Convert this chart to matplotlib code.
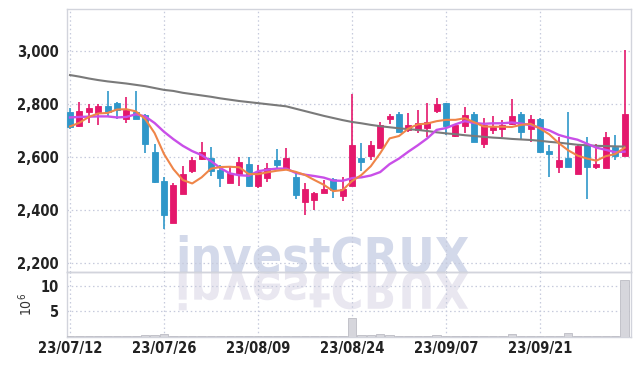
import matplotlib
matplotlib.use("Agg")
import matplotlib.pyplot as plt
from matplotlib.patches import Rectangle, PathPatch
from matplotlib.textpath import TextPath
from matplotlib.font_manager import FontProperties
from matplotlib.transforms import Affine2D
import matplotlib.ticker as mticker

# ---------------- data ----------------
tick_labels = ["23/07/12", "23/07/26", "23/08/09", "23/08/24", "23/09/07", "23/09/21"]
tick_index = [0, 10, 20, 30, 40, 50]

opens = [2770, 2717, 2769, 2766, 2791, 2804, 2743, 2769, 2757, 2618,
         2508, 2351, 2460, 2546, 2593, 2595, 2550, 2502, 2536, 2572,
         2491, 2521, 2587, 2552, 2525, 2430, 2436, 2464, 2516, 2452,
         2489, 2596, 2603, 2634, 2741, 2760, 2701, 2701, 2710, 2774,
         2801, 2679, 2716, 2761, 2648, 2701, 2705, 2724, 2761, 2703,
         2741, 2622, 2562, 2595, 2534, 2643, 2562, 2556, 2635, 2604]
highs = [2783, 2805, 2799, 2799, 2848, 2806, 2826, 2848, 2760, 2648,
         2523, 2502, 2565, 2600, 2657, 2635, 2569, 2561, 2600, 2600,
         2570, 2575, 2629, 2632, 2537, 2500, 2466, 2512, 2518, 2525,
         2835, 2650, 2660, 2729, 2761, 2770, 2764, 2776, 2801, 2820,
         2803, 2722, 2786, 2770, 2745, 2754, 2739, 2817, 2770, 2757,
         2745, 2643, 2673, 2770, 2644, 2676, 2647, 2694, 2680, 3003]
lows = [2703, 2711, 2726, 2718, 2751, 2741, 2726, 2743, 2613, 2502,
        2326, 2351, 2458, 2537, 2587, 2527, 2487, 2500, 2490, 2487,
        2480, 2506, 2552, 2552, 2439, 2380, 2400, 2462, 2443, 2434,
        2489, 2547, 2587, 2634, 2722, 2692, 2694, 2688, 2675, 2764,
        2682, 2675, 2688, 2657, 2632, 2686, 2675, 2720, 2663, 2657,
        2615, 2525, 2537, 2560, 2534, 2439, 2552, 2556, 2587, 2604]
closes = [2711, 2772, 2784, 2791, 2768, 2775, 2776, 2743, 2648, 2504,
          2380, 2492, 2534, 2587, 2616, 2547, 2521, 2537, 2579, 2491,
          2542, 2556, 2569, 2595, 2455, 2478, 2464, 2478, 2474, 2478,
          2644, 2581, 2644, 2720, 2754, 2692, 2720, 2726, 2732, 2799,
          2716, 2720, 2757, 2657, 2720, 2711, 2720, 2754, 2694, 2741,
          2619, 2612, 2587, 2562, 2640, 2562, 2572, 2673, 2603, 2761]

ma_short = [2714, 2728, 2750, 2763, 2765, 2778, 2779, 2771, 2742, 2689,
            2610, 2553, 2512, 2499, 2522, 2555, 2561, 2562, 2560, 2535,
            2534, 2541, 2547, 2551, 2543, 2531, 2512, 2494, 2470, 2474,
            2508, 2531, 2564, 2613, 2669, 2678, 2706, 2722, 2725, 2734,
            2739, 2739, 2745, 2730, 2714, 2713, 2713, 2712, 2720, 2724,
            2706, 2684, 2651, 2624, 2604, 2593, 2585, 2602, 2610, 2634]
ma_mid = [2748, 2750, 2751, 2752, 2752, 2748, 2750, 2760, 2752, 2727,
          2694, 2666, 2641, 2621, 2606, 2583, 2557, 2537, 2530, 2528,
          2545, 2551, 2555, 2555, 2539, 2532, 2527, 2521, 2510, 2509,
          2519, 2522, 2529, 2542, 2572, 2593, 2619, 2643, 2669, 2701,
          2708, 2722, 2734, 2727, 2724, 2726, 2726, 2729, 2725, 2719,
          2709, 2699, 2682, 2672, 2664, 2649, 2634, 2626, 2617, 2619]
ma_long = [2908, 2902, 2895, 2889, 2884, 2880, 2876, 2871, 2866, 2859,
           2852, 2848, 2841, 2836, 2831, 2826, 2820, 2815, 2810, 2806,
           2802, 2798, 2794, 2790, 2781, 2772, 2763, 2754, 2746, 2738,
           2731, 2726, 2720, 2715, 2711, 2707, 2704, 2701, 2697, 2692,
           2688, 2685, 2681, 2678, 2675, 2672, 2670, 2667, 2665, 2663,
           2660, 2656, 2653, 2649, 2645, 2643, 2641, 2640, 2639, 2638]

volume = [0.1, 0.1, 0.1, 0.1, 0.1, 0.1, 0.1, 0.2, 0.3, 0.35,
          0.55, 0.2, 0.1, 0.1, 0.2, 0.2, 0.1, 0.1, 0.15, 0.15,
          0.1, 0.1, 0.15, 0.15, 0.15, 0.15, 0.15, 0.1, 0.1, 0.15,
          3.6, 0.35, 0.3, 0.5, 0.35, 0.15, 0.1, 0.1, 0.2, 0.3,
          0.15, 0.1, 0.1, 0.15, 0.15, 0.15, 0.15, 0.5, 0.1, 0.1,
          0.1, 0.1, 0.2, 0.7, 0.15, 0.15, 0.15, 0.15, 0.15, 11.2]

price_ticks = [2200, 2400, 2600, 2800, 3000]
vol_ticks = [5, 10]
watermark = "investCRUX"

# ---------------- style ----------------
W, H = 639, 366
UP = "#e4186c"
DOWN = "#2f97c9"
GRID = "#c6cadc"
SPINE = "#d2d4dc"
FONT = ["DejaVu Sans"]
plt.rcParams["font.family"] = FONT
plt.rcParams["font.stretch"] = "condensed"

fig = plt.figure(figsize=(W / 100, H / 100), dpi=100)
fig.patch.set_facecolor("white")

left, right = 67 / W, 630.7 / W
ax = fig.add_axes([left, 1 - 272 / H, right - left, (272 - 9.3) / H])
axv = fig.add_axes([left, 1 - 336.7 / H, right - left, (336.7 - 272) / H], sharex=ax)
for a in (ax, axv):
    a.set_facecolor("none")
    for s in a.spines.values():
        s.set_color(SPINE)
        s.set_linewidth(1.0)
ax.spines["bottom"].set_color("#c4c6ce")

# watermark: real text + mirrored reflection
wm_size = 36
base = H - 272.3
wm_x = 175.0
fig.text(wm_x / W, base / H, watermark, fontsize=wm_size, fontweight="bold",
         fontstretch="condensed", color="#d3d9ea", ha="left", va="baseline", zorder=-5)
fp = FontProperties(family=FONT, weight="bold", stretch="condensed")
tp = TextPath((0, 0), watermark, size=wm_size, prop=fp)
k = 100 / 72.0
tr = Affine2D().scale(k / W, -k / H).translate(wm_x / W, base / H) + fig.transFigure
refl = PathPatch(tp, transform=tr, facecolor="#e9e7f0", edgecolor="none", zorder=-6)
fig.patches.append(refl)
refl.set_figure(fig)

n = len(closes)
xs = list(range(n))
bw = 0.64
for i in xs:
    o, h, l, c = opens[i], highs[i], lows[i], closes[i]
    col = UP if c >= o else DOWN
    ax.vlines(i, l, h, color=col, linewidth=1.2, zorder=3)
    bottom = min(o, c)
    height = max(abs(c - o), 2)
    ax.add_patch(Rectangle((i - bw / 2, bottom), bw, height, facecolor=col,
                           edgecolor=col, linewidth=0.6, zorder=4))

ax.plot(xs, ma_long, color="#7a7a7a", linewidth=1.5, zorder=5)
ax.plot(xs, ma_mid, color="#c94fe8", linewidth=1.7, zorder=6)
ax.plot(xs, ma_short, color="#ef8548", linewidth=1.5, zorder=7)

axv.bar(xs, volume, width=0.9, color="#d6d6dc", edgecolor="#bcbcc4", linewidth=0.6, zorder=3)

ax.set_xlim(-0.32, 59.65)
ax.set_ylim(2165, 3156)
axv.set_ylim(0, 12.7)

ax.set_yticks(price_ticks)
ax.yaxis.set_major_formatter(mticker.FuncFormatter(lambda v, p: f"{int(v):,}"))
axv.set_yticks(vol_ticks)
axv.set_xticks(tick_index)
axv.set_xticklabels(tick_labels)
plt.setp(ax.get_xticklabels(), visible=False)

for a in (ax, axv):
    a.tick_params(axis="y", length=0, labelsize=10.5, labelcolor="#222222", pad=6)
    a.tick_params(axis="x", length=0, labelsize=10.5, labelcolor="#222222", pad=3)
    for lab in a.get_yticklabels() + a.get_xticklabels():
        lab.set_fontweight("bold")
        lab.set_fontstretch("condensed")
    a.grid(True, color=GRID, linestyle=(0, (1.2, 2.2)), linewidth=0.9, zorder=0)
    a.set_axisbelow(True)

axv.set_ylabel(r"$10^6$", fontsize=10, color="#333333", labelpad=4)

fig.savefig("out.png", dpi=100, facecolor="white")
